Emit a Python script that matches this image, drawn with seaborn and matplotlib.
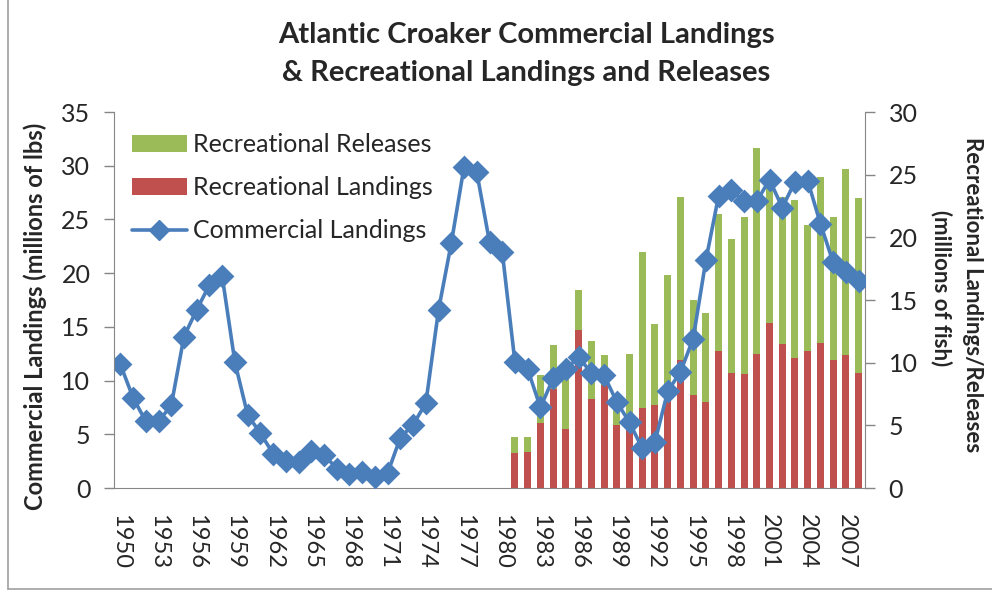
import numpy as np
import pandas as pd
import matplotlib
matplotlib.use("Agg")
import matplotlib.pyplot as plt
import seaborn as sns
from matplotlib.patches import Patch
from matplotlib.lines import Line2D

sns.set_style("white")
plt.rcParams['font.family'] = ['Lato', 'DejaVu Sans']

# ---------------- data ----------------
years = list(range(1950, 2009))
commercial = [11.5, 8.4, 6.2, 6.2, 7.7, 14.1, 16.6, 18.9, 19.7, 11.7,
              6.8, 5.1, 3.2, 2.5, 2.4, 3.4, 3.1, 1.8, 1.3, 1.5,
              1.0, 1.4, 4.7, 5.9, 7.9, 16.6, 22.8, 29.9, 29.4, 22.9,
              22.0, 11.7, 11.05, 7.5, 10.2, 11.05, 12.2, 10.7, 10.5, 8.0,
              6.1, 3.7, 4.3, 9.0, 10.8, 13.9, 21.2, 27.2, 27.7, 26.7,
              26.7, 28.7, 26.1, 28.5, 28.6, 24.6, 21.0, 20.1, 19.3]

rec_years = list(range(1981, 2009))
rec_landings = [2.8, 2.9, 5.2, 7.9, 4.7, 12.6, 7.1, 8.2, 5.0, 4.7,
                6.35, 6.6, 6.95, 10.2, 7.45, 6.9, 10.9, 9.2, 9.1, 10.7,
                13.2, 11.5, 10.4, 10.95, 11.55, 10.2, 10.6, 9.15]
rec_releases = [1.25, 1.15, 3.8, 3.5, 4.9, 3.2, 4.6, 2.4, 1.5, 6.0,
                12.45, 6.5, 10.05, 13.0, 7.55, 7.1, 11.0, 10.7, 12.5, 16.4,
                11.3, 11.75, 12.6, 10.05, 13.25, 11.45, 14.85, 13.95]

year_labels = [str(y) for y in years]
shown_labels = year_labels[::3]

green = "#9BBB59"
red = "#C0504D"
blue = "#4A7EBB"
grey = "#868686"

bars = pd.DataFrame({"year": [str(y) for y in rec_years],
                     "landings": rec_landings,
                     "total": [l + r for l, r in zip(rec_landings, rec_releases)]})
line = pd.DataFrame({"year": year_labels, "commercial": commercial})

# ---------------- figure ----------------
W, H = 992, 592
fig = plt.figure(figsize=(W / 100, H / 100), dpi=100)
# chart-area border (left and bottom visible edges)
fig.add_artist(Line2D([8 / W, 8 / W], [1 - 589 / H, 1.0], transform=fig.transFigure,
                      color="#A0A0A0", linewidth=1.2))
fig.add_artist(Line2D([8 / W, 1.0], [1 - 589 / H, 1 - 589 / H], transform=fig.transFigure,
                      color="#A0A0A0", linewidth=1.2))

L, R, T, B = 114, 865, 112, 488
ax = fig.add_axes([L / W, 1 - B / H, (R - L) / W, (B - T) / H])

sns.barplot(data=bars, x="year", y="total", order=year_labels, color=green,
            saturation=1, width=0.55, errorbar=None, ax=ax, linewidth=0)
sns.barplot(data=bars, x="year", y="landings", order=year_labels, color=red,
            saturation=1, width=0.55, errorbar=None, ax=ax, linewidth=0)
ax.set_ylim(0, 30)
ax.set_yticks(np.arange(0, 31, 5))

ax2 = ax.twinx()
sns.pointplot(data=line, x="year", y="commercial", order=year_labels,
              color=blue, markers="D", markersize=10, linewidth=2.6,
              errorbar=None, ax=ax2)
ax2.set_ylim(0, 35)
ax2.set_yticks(np.arange(0, 36, 5))

ax.set_xlim(-0.5, len(years) - 0.5)
ax.set_xticks(np.arange(0, len(years), 3))
ax.set_xticklabels(shown_labels, rotation=-90, fontsize=17)
ax.set_xticks(np.arange(-0.5, len(years), 1), minor=True)
ax.tick_params(axis="x", which="major", length=0, pad=19)
ax.tick_params(axis="x", which="minor", length=6.5, width=1, color=grey, direction="out")
ax.set_xlabel("")
ax.set_ylabel("")
ax2.set_xlabel("")
ax2.set_ylabel("")
ax2.tick_params(axis="x", which="both", bottom=False, labelbottom=False)

# right axis (bars)
ax.yaxis.tick_right()
ax.tick_params(axis="y", which="major", length=7, width=1, color=grey,
               direction="out", labelsize=18, pad=10, right=True, left=False)

# left axis (line)
ax2.yaxis.tick_left()
ax2.tick_params(axis="y", which="major", length=7, width=1, color=grey,
                direction="out", labelsize=18, pad=10, left=True, right=False)

for a in (ax, ax2):
    for s in a.spines.values():
        s.set_visible(False)
ax.spines["bottom"].set_visible(True)
ax.spines["bottom"].set_color(grey)
ax.spines["right"].set_visible(True)
ax.spines["right"].set_color(grey)
ax2.spines["left"].set_visible(True)
ax2.spines["left"].set_color(grey)
ax.grid(False)
ax2.grid(False)

# axis titles
fig.text(35 / W, 1 - 316 / H, "Commercial Landings (millions of lbs)", rotation=90,
         ha="center", va="center", fontsize=17, fontweight="bold")
fig.text(973 / W, 1 - 295 / H, "Recreational Landings/Releases", rotation=-90,
         ha="center", va="center", fontsize=16, fontweight="bold")
fig.text(941 / W, 1 - 288 / H, "(millions of fish)", rotation=-90,
         ha="center", va="center", fontsize=16, fontweight="bold")

# title
fig.text(526 / W, 1 - 35 / H, "Atlantic Croaker Commercial Landings",
         ha="center", va="center", fontsize=21, fontweight="bold")
fig.text(526 / W, 1 - 73 / H, "& Recreational Landings and Releases",
         ha="center", va="center", fontsize=21, fontweight="bold")

handles = [Patch(facecolor=green, edgecolor="none"),
           Patch(facecolor=red, edgecolor="none"),
           Line2D([0], [0], color=blue, linewidth=2.6, marker="D", markersize=10)]
ax2.legend(handles, ["Recreational Releases", "Recreational Landings", "Commercial Landings"],
           loc="upper left", bbox_to_anchor=(0.0, 0.99), frameon=False, fontsize=18,
           handlelength=2.2, handleheight=0.7, labelspacing=0.8, handletextpad=0.25,
           borderaxespad=0.3)

fig.savefig("out.png", dpi=100)
